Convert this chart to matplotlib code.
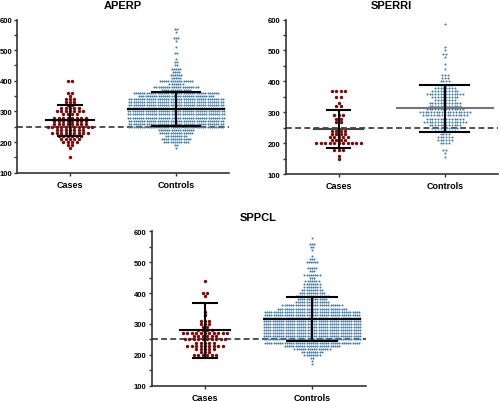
import numpy as np
import matplotlib.pyplot as plt

plt.rcParams['font.family'] = ['Liberation Sans', 'DejaVu Sans']
plt.rcParams['font.weight'] = 'bold'

groups = ['Cases', 'Controls']
cutoff = 250

# APERP - values in rows of 10, count of subjects per row
aperp_cases_lv = [400, 360, 350, 340, 330, 320, 310, 300, 290, 280, 270, 260, 250, 240, 230, 220, 210, 200, 190, 180, 150]
aperp_cases_n = [2, 2, 1, 3, 3, 2, 5, 7, 4, 8, 8, 8, 11, 7, 9, 6, 5, 4, 2, 1, 1]
aperp_ctrl_lv = [570, 560, 540, 530, 510, 490, 470, 460, 450, 440, 430, 420, 410, 400, 390, 380, 370, 360, 350,
                 340, 330, 320, 310, 300, 290, 280, 270, 260, 250, 240, 230, 220, 210, 200, 190, 180]
aperp_ctrl_n = [2, 1, 3, 1, 1, 2, 1, 2, 2, 5, 4, 6, 5, 16, 7, 21, 14, 40, 35,
                44, 44, 44, 45, 45, 45, 45, 44, 44, 44, 17, 16, 10, 14, 12, 2, 1]
aperp_mean = [271, 308]
aperp_sd = [50, 55]

# SPERRI
sperri_cases_lv = [370, 350, 330, 320, 290, 280, 270, 240, 230, 220, 210, 200, 180, 160, 150]
sperri_cases_n = [4, 2, 1, 2, 3, 2, 2, 4, 4, 5, 4, 11, 3, 1, 1]
sperri_ctrl_lv = [585, 510, 500, 490, 480, 455, 440, 420, 410, 400, 390, 380, 370, 360, 350, 340, 330,
                  320, 310, 300, 290, 280, 270, 260, 250, 240, 230, 220, 210, 200, 180, 170, 155]
sperri_ctrl_n = [1, 1, 1, 2, 1, 1, 1, 3, 3, 4, 6, 8, 10, 14, 10, 8, 12,
                 12, 14, 19, 17, 14, 16, 12, 10, 8, 4, 6, 6, 4, 2, 1, 1]
sperri_mean = [247, 314]
sperri_sd = [62, 76]

# SPPCL
sppcl_cases_lv = [440, 400, 390, 340, 330, 310, 300, 290, 280, 270, 260, 250, 240, 230, 220, 210, 200]
sppcl_cases_n = [1, 2, 1, 1, 1, 3, 3, 2, 4, 11, 6, 10, 5, 9, 5, 3, 6]
sppcl_ctrl_lv = [580, 560, 550, 540, 520, 510, 500, 480, 470, 460, 450, 440, 430, 420, 410, 400, 390, 380,
                 370, 360, 350, 340, 330, 320, 310, 300, 290, 280, 270, 260, 250, 240, 230, 220, 210, 200,
                 190, 180, 170]
sppcl_ctrl_n = [1, 3, 2, 1, 1, 3, 6, 5, 3, 8, 3, 7, 8, 8, 10, 12, 16, 14,
                16, 28, 32, 44, 44, 45, 45, 45, 45, 45, 45, 45, 45, 44, 26, 17, 10, 8,
                2, 1, 1]
sppcl_mean = [279, 316]
sppcl_sd = [89, 72]

case_color = '#7a0b0b'
ctrl_color = '#4a7da6'


def swarm(ax, x0, levels, counts, pitch, color, size):
    xs, ys = [], []
    for lv, n in zip(levels, counts):
        off = (np.arange(n) - (n - 1) / 2) * pitch
        xs.extend(x0 + off)
        ys.extend([lv] * n)
    ax.scatter(xs, ys, s=size, color=color, linewidths=0, zorder=2)


def panel(ax, title, cases, ctrl, means, sds, mean_colors, ctrl_pitch=0.0205):
    swarm(ax, 0, cases[0], cases[1], 0.042, case_color, 6)
    swarm(ax, 1, ctrl[0], ctrl[1], ctrl_pitch, ctrl_color, 2.2)

    ax.axhline(cutoff, color='#333333', lw=1.2, ls=(0, (3.5, 2)), zorder=1)

    mean_w = [0.23, 0.45]
    cap_w = [0.11, 0.23]
    for i in range(2):
        m, s = means[i], sds[i]
        ax.plot([i - mean_w[i], i + mean_w[i]], [m, m], color=mean_colors[i], lw=1.5, zorder=3)
        ax.plot([i, i], [m - s, m + s], color='black', lw=1.5, zorder=3)
        for yv in (m - s, m + s):
            ax.plot([i - cap_w[i], i + cap_w[i]], [yv, yv], color='black', lw=1.5, zorder=3)

    ax.set_xlim(-0.5, 1.5)
    ax.set_ylim(100, 600)
    ax.set_xticks([0, 1])
    ax.set_xticklabels(groups, fontsize=6.5, fontweight='bold')
    ax.set_yticks(range(100, 601, 100))
    ax.set_yticks(range(150, 600, 100), minor=True)
    ax.tick_params(axis='y', labelsize=5.5, length=2.5, width=1, pad=1, colors='#333333', labelcolor='black')
    ax.tick_params(axis='y', which='minor', length=2, width=1, colors='#333333')
    ax.tick_params(axis='x', length=2.5, width=1, pad=2.5, colors='#333333', labelcolor='black')
    for sp in ['top', 'right']:
        ax.spines[sp].set_visible(False)
    for sp in ['left', 'bottom']:
        ax.spines[sp].set_linewidth(1.2)
        ax.spines[sp].set_color('#333333')
    ax.set_title(title, fontsize=8, fontweight='bold', pad=8)


fig = plt.figure(figsize=(5, 4.02), dpi=100)
ax1 = fig.add_axes([0.034, 0.568, 0.424, 0.381])
ax2 = fig.add_axes([0.571, 0.564, 0.425, 0.385])
ax3 = fig.add_axes([0.303, 0.038, 0.428, 0.384])

panel(ax1, 'APERP', (aperp_cases_lv, aperp_cases_n), (aperp_ctrl_lv, aperp_ctrl_n),
      aperp_mean, aperp_sd, ['black', 'black'])
panel(ax2, 'SPERRI', (sperri_cases_lv, sperri_cases_n), (sperri_ctrl_lv, sperri_ctrl_n),
      sperri_mean, sperri_sd, ['#444444', '#777777'], ctrl_pitch=0.026)
panel(ax3, 'SPPCL', (sppcl_cases_lv, sppcl_cases_n), (sppcl_ctrl_lv, sppcl_ctrl_n),
      sppcl_mean, sppcl_sd, ['black', 'black'])

fig.savefig('out.png', dpi=100)
